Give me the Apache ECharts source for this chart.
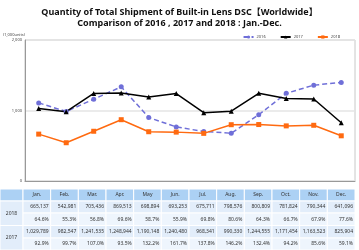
<!DOCTYPE html>
<html>
<head>
<meta charset="utf-8">
<script src="https://cdn.jsdelivr.net/npm/echarts@6/dist/echarts.min.js"></script>
<style>
  html, body { margin: 0; padding: 0; background: #fff; }
  #main { width: 359px; height: 250px; }
</style>
</head>
<body>
<div id="main"></div>
<script>
// data
const months = ['Jan.', 'Feb.', 'Mar.', 'Apr.', 'May', 'Jun.', 'Jul.', 'Aug.', 'Sep.', 'Oct.', 'Nov.', 'Dec.'];
const units2016 = [1108000, 985500, 1160300, 1335800, 900300, 767200, 702700, 677400, 940000, 1243600, 1359300, 1397500];
const units2017 = [1029789, 982547, 1241535, 1248944, 1190148, 1240480, 968341, 990330, 1244555, 1171454, 1163523, 825904];
const units2018 = [665137, 542981, 705436, 869513, 698894, 693253, 675711, 798576, 800809, 781824, 790344, 641096];
const pct2018 = [64.6, 55.3, 56.8, 69.6, 58.7, 55.9, 69.8, 80.6, 64.3, 66.7, 67.9, 77.6];
const pct2017 = [92.9, 99.7, 107.0, 93.5, 132.2, 161.7, 137.8, 146.2, 132.4, 94.2, 85.6, 59.1];
const yTicks = [0, 1000, 2000];

const FONT = "'Noto Sans', 'Noto Sans CJK JP', sans-serif";
const chart = echarts.init(document.getElementById('main'));

// grid / table geometry
const GL = 23, GR = 4, GT = 40, GB = 69;
const colW = (359 - GL - GR) / months.length;
const rowY = [189, 201, 213, 225.5, 238, 250];

function k(arr) { return arr.map(v => v / 1000); }

// table built from the arrays
const graphics = [];
function cell(x, y, w, h, fill) {
  graphics.push({
    type: 'rect', silent: true,
    shape: { x: x, y: y, width: w, height: h },
    style: { fill: fill, stroke: '#fff', lineWidth: 1 }
  });
}
function txt(x, y, s, align) {
  graphics.push({
    type: 'text', silent: true, x: x, y: y,
    style: { text: s, fill: '#333', fontSize: 5, fontFamily: FONT, align: align, verticalAlign: 'middle' }
  });
}
const HEAD = '#acd1f4', ROW1 = '#e2edfa', ROW2 = '#eef5fd';
cell(0, rowY[0], GL, rowY[1] - rowY[0], HEAD);
cell(0, rowY[1], GL, rowY[3] - rowY[1], ROW1);
cell(0, rowY[3], GL, rowY[5] - rowY[3], ROW1);
txt(GL / 2, (rowY[1] + rowY[3]) / 2, '2018', 'center');
txt(GL / 2, (rowY[3] + rowY[5]) / 2, '2017', 'center');
const rows = [
  { vals: units2018.map(v => v.toLocaleString('en-US')), fill: ROW1 },
  { vals: pct2018.map(v => v.toFixed(1) + '%'), fill: ROW2 },
  { vals: units2017.map(v => v.toLocaleString('en-US')), fill: ROW1 },
  { vals: pct2017.map(v => v.toFixed(1) + '%'), fill: ROW2 }
];
months.forEach((m, i) => {
  const x = GL + i * colW;
  cell(x, rowY[0], colW, rowY[1] - rowY[0], HEAD);
  txt(x + colW / 2, (rowY[0] + rowY[1]) / 2, m, 'center');
  rows.forEach((r, j) => {
    cell(x, rowY[j + 1], colW, rowY[j + 2] - rowY[j + 1], r.fill);
    txt(x + colW - 2, (rowY[j + 1] + rowY[j + 2]) / 2, r.vals[i], 'right');
  });
});

const option = {
  animation: false,
  textStyle: { fontFamily: FONT },
  title: {
    text: 'Quantity of Total Shipment of Built-in Lens DSC【Worldwide】\nComparison of 2016 , 2017 and 2018 : Jan.-Dec.',
    left: 'center', top: 2,
    textStyle: { fontSize: 9, fontWeight: 'bold', color: '#111', lineHeight: 11, fontFamily: FONT }
  },
  legend: {
    right: 14, top: 30,
    itemWidth: 10, itemHeight: 4, itemGap: 14,
    textStyle: { fontSize: 4, color: '#444', padding: [0, 0, 0, -2] },
    data: ['2016', '2017', '2018']
  },
  grid: { left: GL, right: GR, top: GT, bottom: GB, show: true, borderColor: '#c8c8c8', borderWidth: 1 },
  xAxis: {
    type: 'category', data: months, boundaryGap: true,
    axisLabel: { show: false }, axisTick: { show: false },
    axisLine: { lineStyle: { color: '#999' } }
  },
  yAxis: {
    type: 'value', min: yTicks[0], max: yTicks[yTicks.length - 1], interval: 1000,
    name: '(1,000units)', nameLocation: 'end', nameGap: 3,
    nameTextStyle: { fontSize: 4, color: '#444', align: 'right' },
    axisLine: { show: true, lineStyle: { color: '#999' } },
    axisTick: { show: false },
    axisLabel: { fontSize: 4, color: '#444', margin: 3, formatter: v => v.toLocaleString('en-US') },
    splitLine: { lineStyle: { color: '#e4e4e4', width: 1.5 } }
  },
  series: [
    {
      name: '2016', type: 'line', data: k(units2016),
      symbol: 'circle', symbolSize: 5,
      lineStyle: { color: '#6f6fd8', width: 1.5, type: [5, 3] },
      itemStyle: { color: '#6f6fd8' }
    },
    {
      name: '2017', type: 'line', data: k(units2017),
      symbol: 'triangle', symbolSize: 5,
      lineStyle: { color: '#000', width: 1.5 },
      itemStyle: { color: '#000' }
    },
    {
      name: '2018', type: 'line', data: k(units2018),
      symbol: 'rect', symbolSize: 5,
      lineStyle: { color: '#ff6a10', width: 1.5 },
      itemStyle: { color: '#ff6a10' }
    }
  ],
  graphic: graphics
};
chart.setOption(option);
</script>
</body>
</html>
